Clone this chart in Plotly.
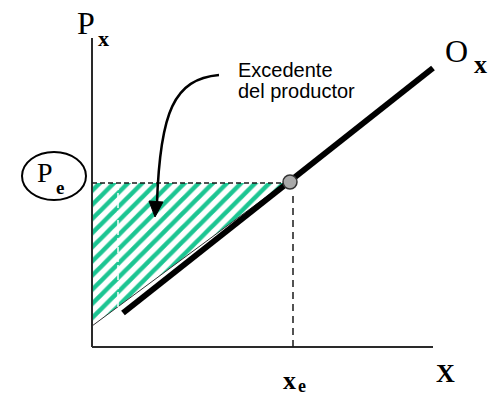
import plotly.graph_objects as go

# ---- data (chart units: origin at the axes corner) ----
axis_x_end = 341
axis_y_end = 309

xe = 198          # equilibrium quantity
pe = 164          # equilibrium price
xe_line = 201     # position of vertical guide

supply_x = [31, 341]
supply_y = [34, 279]

surplus_x = [0, 193, 0, 0]
surplus_y = [21, 164, 164, 21]

white_guide_x = [26, 26]
white_guide_y = [40, 163]

arrow_path_x = [127, 82, 68, 65]
arrow_path_y = [272, 268, 235, 144]
arrow_head_x = [63, 57, 71]
arrow_head_y = [130, 146, 145]

pe_ellipse_x = [-70, -6]
pe_ellipse_y = [147, 195]

label_lines = ["Excedente", "del productor"]

SERIF = "Liberation Serif, Times New Roman, serif"
SANS = "Liberation Sans, Arial, sans-serif"
INK = "#1a1a1a"
GREEN = "#1cc592"

W, H = 490, 398

fig = go.Figure()

# producer surplus hatched area
fig.add_trace(go.Scatter(
    x=surplus_x, y=surplus_y, mode="lines", fill="toself",
    line=dict(width=0, color="rgba(0,0,0,0)"),
    fillcolor="white",
    fillpattern=dict(shape="/", fgcolor=GREEN, fgopacity=1, bgcolor="white", size=10, solidity=0.45),
    hoverinfo="skip", showlegend=False))

# thin hypotenuse
fig.add_trace(go.Scatter(
    x=surplus_x[:2], y=surplus_y[:2], mode="lines",
    line=dict(width=1, color="#333333"), hoverinfo="skip", showlegend=False))

# white dashed guide inside hatch
fig.add_trace(go.Scatter(
    x=white_guide_x, y=white_guide_y, mode="lines",
    line=dict(width=1.5, color="white", dash="6px,3px"), hoverinfo="skip", showlegend=False))

# axes
fig.add_trace(go.Scatter(x=[0, 0], y=[0, axis_y_end], mode="lines",
                         line=dict(width=2, color="#2a2a2a"), hoverinfo="skip", showlegend=False))
fig.add_trace(go.Scatter(x=[0, axis_x_end], y=[0, 0], mode="lines",
                         line=dict(width=2, color="#2a2a2a"), hoverinfo="skip", showlegend=False))

# dashed guides
fig.add_trace(go.Scatter(x=[0, xe - 6], y=[pe, pe], mode="lines",
                         line=dict(width=1.5, color=INK, dash="5px,3px"), hoverinfo="skip", showlegend=False))
fig.add_trace(go.Scatter(x=[xe_line, xe_line], y=[0, pe - 8], mode="lines",
                         line=dict(width=1.5, color=INK, dash="7px,5px"), hoverinfo="skip", showlegend=False))

# supply line
fig.add_trace(go.Scatter(x=supply_x, y=supply_y, mode="lines",
                         line=dict(width=6, color="#000000"), hoverinfo="skip", showlegend=False))

# equilibrium point
fig.add_trace(go.Scatter(x=[xe], y=[pe + 1], mode="markers",
                         marker=dict(size=14, color="#a9a9a9", line=dict(width=1.5, color="#333333")),
                         hoverinfo="skip", showlegend=False))

# arrow
path = "M {},{} C {},{} {},{} {},{}".format(
    arrow_path_x[0], arrow_path_y[0], arrow_path_x[1], arrow_path_y[1],
    arrow_path_x[2], arrow_path_y[2], arrow_path_x[3], arrow_path_y[3])
head = "M {},{} L {},{} L {},{} Z".format(
    arrow_head_x[0], arrow_head_y[0], arrow_head_x[1], arrow_head_y[1], arrow_head_x[2], arrow_head_y[2])
fig.add_shape(type="path", path=path, xref="x", yref="y", line=dict(color="#000000", width=2.5))
fig.add_shape(type="path", path=head, xref="x", yref="y", line=dict(color="#000000", width=1),
              fillcolor="#000000")

# Pe ellipse
fig.add_shape(type="circle", xref="x", yref="y",
              x0=pe_ellipse_x[0], x1=pe_ellipse_x[1], y0=pe_ellipse_y[0], y1=pe_ellipse_y[1],
              line=dict(color="#000000", width=2))

def txt(x, y, s, size, family=SERIF, bold=False, xanchor="center", yanchor="middle", align="center"):
    if bold:
        s = "<b>" + s + "</b>"
    fig.add_annotation(x=x, y=y, xref="x", yref="y", text=s, showarrow=False,
                       font=dict(family=family, size=size, color="#000000"),
                       xanchor=xanchor, yanchor=yanchor, align=align)

# labels
txt(-6, 324, "P", 32)
txt(11, 309, "x", 22, bold=True)
txt(364, 296, "O", 32)
txt(388, 283, "x", 26, bold=True)
txt(353, -26, "X", 26, bold=True)
txt(197, -33, "x", 26, bold=True)
txt(210, -51, "e", 18, bold=True, yanchor="bottom")
txt(-47, 175, "P", 28)
txt(-32, 160, "e", 19, bold=True)
txt(144, 277, label_lines[0], 20, family=SANS, xanchor="left")
txt(144, 256, label_lines[1], 20, family=SANS, xanchor="left")

fig.update_layout(
    width=W, height=H, autosize=False,
    margin=dict(l=0, r=0, t=0, b=0),
    paper_bgcolor="white", plot_bgcolor="white",
    xaxis=dict(range=[-92, 398], visible=False, fixedrange=True),
    yaxis=dict(range=[-51, 347], visible=False, fixedrange=True),
    showlegend=False,
)

fig.write_html(
    "out.html",
    config={"displayModeBar": False},
    post_script="document.body.style.margin='0';document.body.style.overflow='hidden';",
)
